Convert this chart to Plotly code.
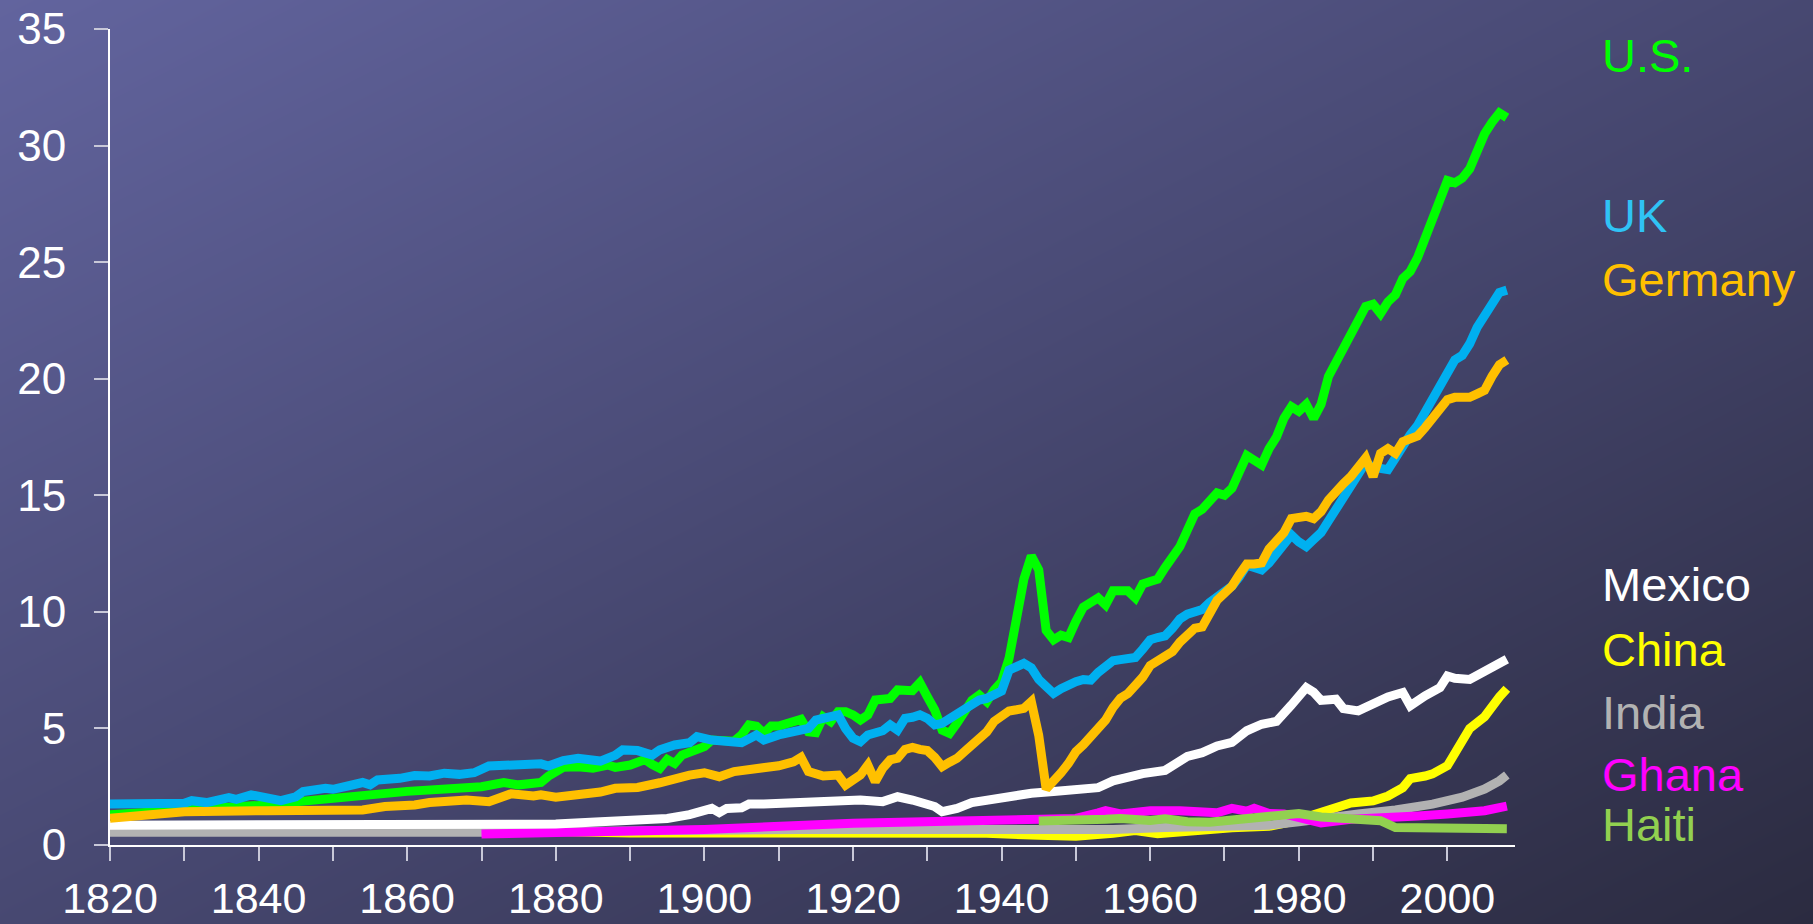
import plotly.graph_objects as go

# ---------------- data (GDP per capita, thousands) ----------------
us_years = [1820, 1830, 1840, 1850, 1860, 1870, 1873, 1875, 1878, 1879, 1880, 1881, 1883, 1885, 1887, 1888,
            1890, 1891, 1892, 1893, 1894, 1895, 1896, 1897, 1899, 1900, 1901, 1903, 1904, 1905, 1906, 1907,
            1908, 1909, 1910, 1912, 1913, 1914, 1915, 1916, 1917, 1918, 1919, 1920, 1921, 1922, 1923, 1925,
            1926, 1928, 1929, 1930, 1931, 1932, 1933, 1934, 1935, 1936, 1937, 1938, 1939, 1940, 1941, 1942,
            1943, 1944, 1945, 1946, 1947, 1948, 1949, 1950, 1951, 1952, 1953, 1954, 1955, 1956, 1957, 1958,
            1959, 1960, 1961, 1962, 1963, 1964, 1965, 1966, 1967, 1968, 1969, 1970, 1971, 1972, 1973, 1974,
            1975, 1976, 1977, 1978, 1979, 1980, 1981, 1982, 1983, 1984, 1985, 1986, 1987, 1988, 1989, 1990,
            1991, 1992, 1993, 1994, 1995, 1996, 1997, 1998, 1999, 2000, 2001, 2002, 2003, 2004, 2005, 2006,
            2007, 2008]
us_values = [1.3, 1.5, 1.7, 2.0, 2.3, 2.5, 2.68, 2.58, 2.68, 2.95, 3.15, 3.33, 3.36, 3.29, 3.43, 3.33,
             3.43, 3.53, 3.67, 3.45, 3.29, 3.67, 3.5, 3.86, 4.15, 4.22, 4.5, 4.53, 4.45, 4.72, 5.15, 5.1,
             4.79, 5.1, 5.1, 5.29, 5.39, 4.86, 4.82, 5.5, 5.29, 5.72, 5.72, 5.58, 5.36, 5.58, 6.22, 6.29,
             6.65, 6.62, 6.96, 6.36, 5.79, 4.93, 4.79, 5.22, 5.65, 6.2, 6.43, 6.15, 6.65, 7.0, 8.0, 9.8,
             11.4, 12.4, 11.8, 9.2, 8.8, 9.0, 8.9, 9.6, 10.2, 10.4, 10.6, 10.3, 10.9, 10.9, 10.9, 10.6,
             11.2, 11.3, 11.4, 11.9, 12.3, 12.8, 13.5, 14.2, 14.4, 14.8, 15.1, 15.0, 15.3, 16.0, 16.7, 16.5,
             16.3, 17.0, 17.5, 18.3, 18.8, 18.6, 18.9, 18.3, 18.9, 20.1, 20.7, 21.2, 21.7, 22.4, 23.1, 23.2,
             22.8, 23.3, 23.6, 24.3, 24.6, 25.2, 26.0, 26.8, 27.8, 28.5, 28.4, 28.6, 29.0, 29.8, 30.5, 31.0,
             31.4, 31.2]

uk_years = [1820, 1823, 1830, 1831, 1833, 1836, 1837, 1839, 1841, 1843, 1845, 1846, 1849, 1850, 1852, 1854,
            1855, 1856, 1859, 1861, 1863, 1865, 1867, 1869, 1871, 1873, 1875, 1878, 1879, 1881, 1883, 1886,
            1888, 1889, 1891, 1893, 1894, 1896, 1898, 1899, 1901, 1903, 1905, 1907, 1908, 1910, 1913, 1914,
            1915, 1917, 1918, 1919, 1920, 1921, 1922, 1924, 1925, 1926, 1927, 1928, 1929, 1930, 1931, 1932,
            1934, 1935, 1937, 1938, 1939, 1940, 1941, 1943, 1944, 1945, 1946, 1947, 1948, 1949, 1950, 1951,
            1952, 1953, 1954, 1955, 1956, 1957, 1958, 1959, 1960, 1961, 1962, 1963, 1964, 1965, 1966, 1967,
            1968, 1969, 1970, 1971, 1972, 1973, 1974, 1975, 1976, 1977, 1978, 1979, 1980, 1981, 1982, 1983,
            1984, 1985, 1986, 1987, 1988, 1989, 1990, 1991, 1992, 1993, 1994, 1995, 1996, 1997, 1998, 1999,
            2000, 2001, 2002, 2003, 2004, 2005, 2006, 2007, 2008]
uk_values = [1.76, 1.76, 1.79, 1.9, 1.82, 2.03, 1.96, 2.15, 2.0, 1.9, 2.07, 2.29, 2.43, 2.39, 2.53, 2.68,
             2.58, 2.79, 2.86, 2.98, 2.96, 3.08, 3.03, 3.1, 3.39, 3.43, 3.5, 3.48, 3.39, 3.62, 3.72, 3.6,
             3.85, 4.08, 4.05, 3.86, 4.08, 4.29, 4.39, 4.65, 4.5, 4.48, 4.39, 4.72, 4.5, 4.72, 4.93, 5.0,
             5.36, 5.5, 5.58, 5.0, 4.58, 4.43, 4.72, 4.9, 5.15, 4.93, 5.43, 5.48, 5.58, 5.43, 5.15, 5.22,
             5.65, 5.9, 6.22, 6.29, 6.43, 6.6, 7.5, 7.79, 7.6, 7.1, 6.8, 6.5, 6.7, 6.9, 7.0, 7.1,
             7.07, 7.4, 7.7, 7.9, 7.95, 8.0, 8.04, 8.4, 8.8, 8.9, 8.97, 9.3, 9.7, 9.9, 10.0, 10.1,
             10.4, 10.6, 10.8, 11.1, 11.5, 12.0, 11.9, 11.8, 12.1, 12.5, 12.9, 13.3, 13.0, 12.8, 13.1, 13.4,
             13.9, 14.4, 14.9, 15.5, 15.9, 16.4, 16.2, 16.1, 16.1, 16.6, 17.2, 17.6, 18.0, 18.6, 19.2, 19.8,
             20.4, 20.8, 21.0, 21.5, 22.2, 22.7, 23.2, 23.7, 23.8]

de_years = [1820, 1830, 1841, 1850, 1854, 1857, 1859, 1861, 1863, 1866, 1868, 1871, 1872, 1874, 1877, 1878,
            1880, 1882, 1884, 1886, 1888, 1891, 1894, 1896, 1898, 1900, 1902, 1904, 1906, 1908, 1910, 1912,
            1913, 1914, 1916, 1918, 1919, 1921, 1922, 1923, 1924, 1925, 1926, 1927, 1928, 1929, 1930, 1931,
            1932, 1933, 1934, 1935, 1936, 1937, 1938, 1939, 1940, 1941, 1942, 1943, 1944, 1945, 1946, 1947,
            1948, 1949, 1950, 1951, 1952, 1953, 1954, 1955, 1956, 1957, 1958, 1959, 1960, 1961, 1962, 1963,
            1964, 1965, 1966, 1967, 1968, 1969, 1970, 1971, 1972, 1973, 1974, 1975, 1976, 1977, 1978, 1979,
            1980, 1981, 1982, 1983, 1984, 1985, 1986, 1987, 1988, 1989, 1990, 1991, 1992, 1993, 1994, 1995,
            1996, 1997, 1998, 1999, 2000, 2001, 2002, 2003, 2004, 2005, 2006, 2007, 2008]
de_values = [1.15, 1.43, 1.47, 1.47, 1.5, 1.65, 1.65, 1.72, 1.82, 1.86, 1.93, 1.86, 2.0, 2.2, 2.1, 2.15,
             2.05, 2.1, 2.22, 2.27, 2.43, 2.47, 2.67, 2.86, 3.0, 3.1, 2.93, 3.15, 3.22, 3.36, 3.4, 3.57,
             3.76, 3.15, 2.96, 3.0, 2.57, 3.0, 3.43, 2.72, 3.29, 3.65, 3.72, 4.1, 4.19, 4.1, 4.05, 3.76,
             3.36, 3.55, 3.72, 4.0, 4.3, 4.55, 4.85, 5.3, 5.5, 5.75, 5.8, 5.86, 6.15, 4.7, 2.4, 2.7,
             3.1, 3.5, 4.0, 4.3, 4.65, 5.0, 5.36, 5.9, 6.3, 6.5, 6.8, 7.2, 7.7, 7.9, 8.1, 8.3,
             8.7, 9.04, 9.3, 9.35, 9.9, 10.5, 10.8, 11.1, 11.6, 12.05, 12.05, 12.1, 12.7, 13.0, 13.4, 14.0,
             14.1, 14.1, 14.0, 14.3, 14.8, 15.2, 15.5, 15.8, 16.2, 16.6, 15.8, 16.8, 17.0, 16.8, 17.3, 17.4,
             17.55, 17.9, 18.3, 18.7, 19.1, 19.2, 19.2, 19.2, 19.35, 19.5, 20.1, 20.6, 20.8]

mx_years = [1820, 1870, 1880, 1886, 1890, 1895, 1898, 1900, 1901, 1902, 1903, 1905, 1906, 1908, 1913, 1917,
            1921, 1924, 1926, 1928, 1930, 1931, 1932, 1934, 1936, 1938, 1940, 1942, 1944, 1947, 1950, 1952,
            1953, 1955, 1958, 1959, 1962, 1963, 1965, 1967, 1969, 1971, 1973, 1975, 1977, 1979, 1981, 1982,
            1983, 1985, 1986, 1988, 1990, 1992, 1994, 1995, 1997, 1999, 2000, 2001, 2003, 2005, 2007, 2008]
mx_values = [0.85, 0.85, 0.9, 1.0, 1.07, 1.14, 1.3, 1.45, 1.57, 1.39, 1.57, 1.6, 1.76, 1.76, 1.82, 1.86,
             1.93, 1.86, 2.07, 1.93, 1.79, 1.65, 1.43, 1.57, 1.82, 1.93, 1.95, 2.14, 2.22, 2.29, 2.4, 2.5,
             2.46, 2.75, 3.03, 3.06, 3.2, 3.4, 3.8, 3.96, 4.25, 4.4, 4.9, 5.18, 5.3, 6.0, 6.75, 6.55,
             6.2, 6.25, 5.85, 5.75, 6.1, 6.35, 6.54, 5.97, 6.4, 6.75, 7.25, 7.15, 7.1, 7.45, 7.9, 7.97]

cn_years = [1820, 1870, 1890, 1913, 1929, 1938, 1945, 1950, 1955, 1958, 1961, 1964, 1967, 1971, 1976, 1978,
            1980, 1982, 1985, 1987, 1990, 1992, 1994, 1995, 1997, 1998, 2000, 2001, 2002, 2003, 2005, 2006,
            2007, 2008]
cn_values = [0.72, 0.65, 0.52, 0.55, 0.56, 0.5, 0.42, 0.38, 0.5, 0.62, 0.48, 0.58, 0.62, 0.74, 0.8, 0.88,
             1.05, 1.3, 1.55, 1.8, 1.89, 2.1, 2.46, 2.85, 2.96, 3.05, 3.4, 3.9, 4.4, 5.0, 5.5, 6.0,
             6.35, 6.7]

in_years = [1820, 1870, 1913, 1940, 1946, 1950, 1955, 1962, 1971, 1976, 1980, 1984, 1988, 1993, 1998, 2002,
            2005, 2007, 2008]
in_values = [0.55, 0.55, 0.67, 0.7, 0.62, 0.62, 0.66, 0.75, 0.76, 0.85, 1.0, 1.2, 1.33, 1.5, 1.75, 2.05,
             2.4, 2.75, 3.0]

gh_years = [1870, 1886, 1900, 1920, 1940, 1950, 1953, 1954, 1956, 1960, 1964, 1969, 1971, 1973, 1974, 1976,
            1978, 1981, 1983, 1987, 1991, 1996, 2000, 2005, 2008]
gh_values = [0.47, 0.57, 0.67, 0.93, 1.08, 1.14, 1.38, 1.47, 1.33, 1.47, 1.47, 1.38, 1.57, 1.45, 1.57, 1.35,
             1.33, 1.14, 0.95, 1.1, 1.14, 1.24, 1.33, 1.47, 1.67]

ht_years = [1945, 1951, 1954, 1956, 1958, 1960, 1962, 1965, 1968, 1972, 1976, 1978, 1980, 1983, 1988, 1991,
            1993, 1998, 2002, 2008]
ht_values = [1.03, 1.03, 1.1, 1.14, 1.08, 1.05, 1.12, 1.0, 0.98, 1.08, 1.18, 1.22, 1.35, 1.2, 1.12, 1.04,
             0.75, 0.75, 0.71, 0.7]

x_tick_vals = [1820, 1830, 1840, 1850, 1860, 1870, 1880, 1890, 1900, 1910, 1920, 1930, 1940, 1950, 1960,
               1970, 1980, 1990, 2000]
x_tick_text = ["1820", "", "1840", "", "1860", "", "1880", "", "1900", "", "1920", "", "1940", "", "1960",
               "", "1980", "", "2000"]
y_tick_vals = [0, 5, 10, 15, 20, 25, 30, 35]

# drawing order (bottom to top) : name, years, values, line colour, label colour, label y (px)
series = [
    ("China", cn_years, cn_values, "#FFFF00", "#FFFF00", 649),
    ("India", in_years, in_values, "#B2B2B2", "#B2B2B2", 712),
    ("Ghana", gh_years, gh_values, "#FF00FF", "#FF00FF", 774),
    ("Haiti", ht_years, ht_values, "#92D050", "#92D050", 824),
    ("Mexico", mx_years, mx_values, "#FFFFFF", "#FFFFFF", 584),
    ("U.S.", us_years, us_values, "#00FF00", "#00FF00", 56),
    ("UK", uk_years, uk_values, "#00B0F0", "#2FC3F5", 215),
    ("Germany", de_years, de_values, "#FFC000", "#FFC000", 280),
]

W, H = 1813, 924
FONT = "Liberation Sans, Arial, sans-serif"

fig = go.Figure()

# background gradient (full paper, hidden axes)
fig.add_trace(go.Heatmap(
    x=[0, 1], y=[0, 1], z=[[0.5, 1.0], [0.0, 0.5]],
    zsmooth="best", showscale=False, hoverinfo="skip",
    colorscale=[[0, "#62649E"], [0.45, "#4A4B76"], [1, "#2B2B40"]],
    zmin=0, zmax=1, xaxis="x", yaxis="y",
))

for name, yrs, vals, col, lcol, ly in series:
    fig.add_trace(go.Scatter(
        x=yrs, y=vals, mode="lines", name=name,
        line=dict(color=col, width=9),
        xaxis="x2", yaxis="y2", showlegend=False,
    ))

annotations = []
for name, yrs, vals, col, lcol, ly in series:
    annotations.append(dict(
        text=name, x=1600 / W, y=1 - ly / H, xref="paper", yref="paper",
        xanchor="left", yanchor="middle", showarrow=False,
        font=dict(family=FONT, size=47, color=lcol),
    ))

x0, x1 = 110 / W, 1515 / W
y0, y1 = 1 - 845 / H, 1 - 29 / H

fig.update_layout(
    template="none",
    width=W, height=H,
    autosize=False,
    margin=dict(l=0, r=0, t=0, b=0, pad=0, autoexpand=False),
    paper_bgcolor="#454670",
    plot_bgcolor="rgba(0,0,0,0)",
    showlegend=False,
    annotations=annotations,
    xaxis=dict(domain=[0, 1], range=[0, 1], visible=False, fixedrange=True, automargin=False),
    yaxis=dict(domain=[0, 1], range=[0, 1], visible=False, fixedrange=True, automargin=False),
    xaxis2=dict(
        domain=[x0, x1], anchor="y2", range=[1820, 2009.1], automargin=False,
        tickmode="array", tickvals=x_tick_vals, ticktext=x_tick_text,
        ticks="outside", ticklen=14, tickwidth=1.5, tickcolor="#C8C8D8",
        showline=True, linecolor="#FFFFFF", linewidth=2,
        showgrid=False, zeroline=False,
        tickfont=dict(family=FONT, size=43, color="#FFFFFF"),
        ticklabelstandoff=0,
    ),
    yaxis2=dict(
        domain=[y0, y1], anchor="x2", range=[0, 35], automargin=False,
        tickmode="array", tickvals=y_tick_vals,
        ticks="outside", ticklen=14, tickwidth=1.5, tickcolor="#C8C8D8",
        showline=True, linecolor="#FFFFFF", linewidth=2,
        showgrid=False, zeroline=False,
        tickfont=dict(family=FONT, size=44, color="#FFFFFF"),
        ticklabelstandoff=19,
    ),
)

fig.write_html(
    "out.html",
    config={"displayModeBar": False},
    post_script="document.body.style.margin='0px';document.body.style.overflow='hidden';",
)
